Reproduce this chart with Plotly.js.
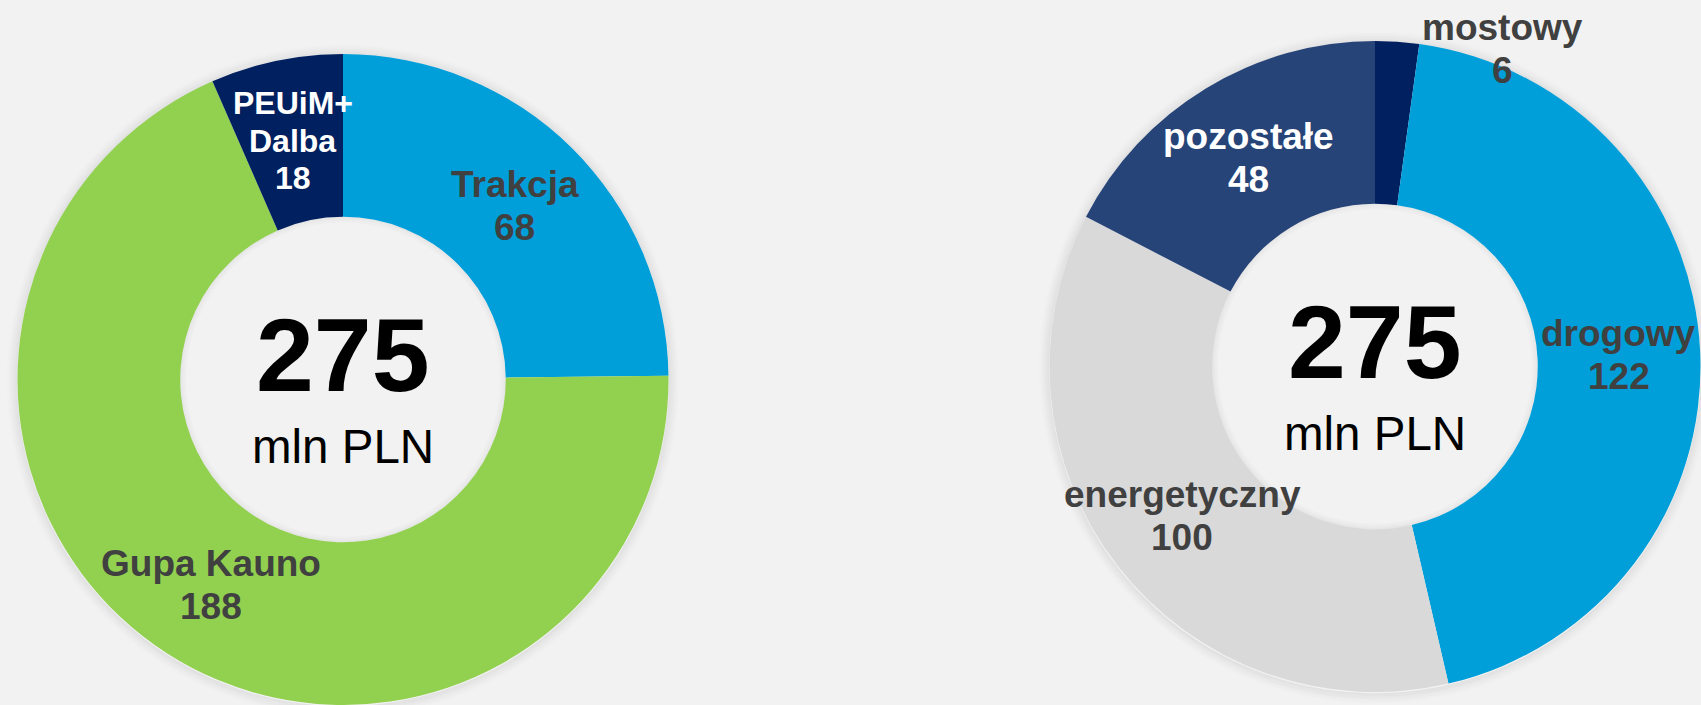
<!DOCTYPE html>
<html><head><meta charset="utf-8">
<script src="https://cdn.plot.ly/plotly-3.0.1.min.js"></script>
<style>html,body{margin:0;padding:0;background:#F2F2F2;overflow:hidden}#chart{width:1701px;height:705px}</style>
</head><body><div id="chart"></div>
<script>
// ---- data ----
const leftCategories = ['Trakcja', 'Gupa Kauno', 'PEUiM+\nDalba'];
const leftValues = [68, 188, 18];
const leftTotal = '275';
const rightCategories = ['mostowy', 'drogowy', 'energetyczny', 'pozostałe'];
const rightValues = [6, 122, 100, 48];
const rightTotal = '275';
const unitLabel = 'mln PLN';

// ---- styles ----
const leftColors = ['#009FDA', '#92D050', '#002060'];
const leftTextColors = ['#404040', '#404040', '#FFFFFF'];
const leftFontSizes = [37, 37, 32];
const rightColors = ['#002060', '#009FDA', '#D9D9D9', '#264478'];
const rightTextColors = ['#404040', '#404040', '#404040', '#FFFFFF'];
const rightFontSizes = [37, 37, 37, 37];

const W = 1701, H = 705, HOLE = 0.5;
const FONT = 'Liberation Sans, Arial, sans-serif';

const pies = [
  {cats: leftCategories, vals: leftValues, colors: leftColors, tcol: leftTextColors, fs: leftFontSizes,
   cx: 343, cy: 379.5, R: 325.5, total: leftTotal, overrides: {}},
  {cats: rightCategories, vals: rightValues, colors: rightColors, tcol: rightTextColors, fs: rightFontSizes,
   cx: 1375, cy: 366.5, R: 325.5, total: rightTotal, overrides: {0: [1502, 49]}}
];

const traces = [], annotations = [], shapes = [];
const px = x => x / W, py = y => 1 - y / H;

pies.forEach(p => {
  traces.push({
    type: 'pie', values: p.vals, labels: p.cats.map(c => c.replace('\n', ' ')),
    marker: {colors: p.colors, line: {width: 0}},
    hole: HOLE, sort: false, direction: 'clockwise', rotation: 0,
    textinfo: 'none', hoverinfo: 'skip', showlegend: false,
    domain: {x: [px(p.cx - p.R), px(p.cx + p.R)], y: [Math.max(0, py(p.cy + p.R)), py(p.cy - p.R)]}
  });
  // shadows
  for (let k = 1; k <= 10; k += 1.5) {
    const r = p.R + k;
    shapes.push({type: 'circle', xref: 'paper', yref: 'paper', layer: 'below',
      x0: px(p.cx - r), x1: px(p.cx + r), y0: py(p.cy + r + 1), y1: py(p.cy - r + 1),
      line: {width: 1.6, color: 'rgba(0,0,0,' + (0.07 * (1 - k / 11)).toFixed(3) + ')'}, fillcolor: 'rgba(0,0,0,0)'});
  }
  for (let k = 0.5; k <= 6; k += 1.5) {
    const r = p.R * HOLE - k;
    shapes.push({type: 'circle', xref: 'paper', yref: 'paper', layer: 'below',
      x0: px(p.cx - r), x1: px(p.cx + r), y0: py(p.cy + r), y1: py(p.cy - r),
      line: {width: 1.6, color: 'rgba(0,0,0,' + (0.05 * (1 - k / 7)).toFixed(3) + ')'}, fillcolor: 'rgba(0,0,0,0)'});
  }
  // slice labels
  const sum = p.vals.reduce((a, b) => a + b, 0);
  let cum = 0;
  const rl = p.R * (1 + HOLE) / 2;
  p.vals.forEach((v, i) => {
    const th = 2 * Math.PI * (cum + v / 2) / sum;
    cum += v;
    let x = p.cx + rl * Math.sin(th), y = p.cy - rl * Math.cos(th);
    if (p.overrides[i]) { x = p.overrides[i][0]; y = p.overrides[i][1]; }
    const lines = p.cats[i].split('\n').concat([String(v)]);
    const gap = p.fs[i] * 1.16;
    lines.forEach((t, j) => {
      annotations.push({xref: 'paper', yref: 'paper', x: px(x), y: py(y + (j - (lines.length - 1) / 2) * gap),
        xanchor: 'center', yanchor: 'middle', showarrow: false, text: t,
        font: {family: FONT, size: p.fs[i], color: p.tcol[i], weight: 'bold'}});
    });
  });
  // center text
  annotations.push({xref: 'paper', yref: 'paper', x: px(p.cx), y: py(p.cy - 24.5), xanchor: 'center', yanchor: 'middle',
    showarrow: false, text: p.total, font: {family: FONT, size: 104, color: '#000000', weight: 'bold'}});
  annotations.push({xref: 'paper', yref: 'paper', x: px(p.cx), y: py(p.cy + 66.5), xanchor: 'center', yanchor: 'middle',
    showarrow: false, text: unitLabel, font: {family: FONT, size: 47.5, color: '#000000'}});
});

Plotly.newPlot('chart', traces, {
  width: W, height: H, margin: {l: 0, r: 0, t: 0, b: 0},
  paper_bgcolor: '#F2F2F2', plot_bgcolor: '#F2F2F2',
  annotations: annotations, shapes: shapes, showlegend: false
}, {staticPlot: true, displayModeBar: false});
</script></body></html>
